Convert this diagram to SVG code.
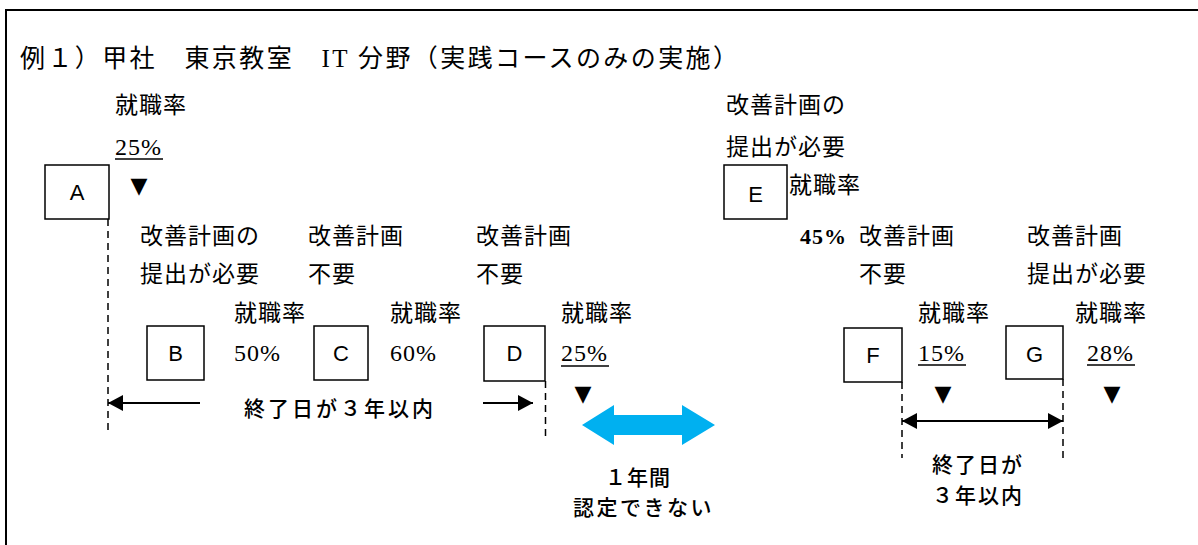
<svg xmlns="http://www.w3.org/2000/svg" width="1198" height="545" viewBox="0 0 1198 545">
<style>
.m{font-family:"Liberation Serif","Noto Sans CJK JP",serif;font-size:23px;letter-spacing:1px;fill:#000}
.n{font-family:"Liberation Serif","Noto Sans CJK JP",serif;font-size:24px;letter-spacing:1px;fill:#000}
.g{font-family:"Noto Sans CJK JP",sans-serif;font-size:21px;font-weight:500;fill:#000}
.lbl{font-family:"Liberation Sans",Arial,sans-serif;font-size:22px;fill:#000;text-anchor:middle}
.box{fill:#fff;stroke:#000;stroke-width:1.5}
.ul{stroke:#000;stroke-width:1.5}
.dash{stroke:#000;stroke-width:1.5;stroke-dasharray:7 5;fill:none}
.arr{stroke:#000;stroke-width:2;fill:none}
.tri{font-family:"DejaVu Sans",sans-serif;font-size:22px;text-anchor:middle;fill:#000}
</style>
<defs>
<marker id="ah" viewBox="0 0 15 16" refX="15" refY="8" markerWidth="15" markerHeight="16" markerUnits="userSpaceOnUse" orient="auto-start-reverse">
<path d="M0,0 L15,8 L0,16 z" fill="#000"/>
</marker>
</defs>
<rect width="1198" height="545" fill="#fff"/>
<path d="M6,546 V10 H1199" fill="none" stroke="#000" stroke-width="2"/>
<text x="20" y="67" class="m" style="font-size:25px;letter-spacing:0" textLength="718" lengthAdjust="spacing">例１）甲社　東京教室　IT 分野（実践コースのみの実施）</text>

<g id="nodeA">
<rect class="box" x="45" y="165" width="64" height="54"/>
<text class="lbl" x="77" y="200">A</text>
<text class="m" x="115" y="113">就職率</text>
<text class="n" x="115" y="155">25%</text>
<line class="ul" x1="115" y1="159" x2="163" y2="159"/>
<text class="tri" x="139" y="193">▼</text>
</g>

<g id="nodeB">
<rect class="box" x="147" y="326" width="57" height="54"/>
<text class="lbl" x="175.5" y="361">B</text>
<text class="m" x="140" y="244">改善計画の</text>
<text class="m" x="140" y="282">提出が必要</text>
<text class="m" x="234" y="321">就職率</text>
<text class="n" x="234" y="361">50%</text>
</g>

<g id="nodeC">
<rect class="box" x="314" y="326" width="54" height="54"/>
<text class="lbl" x="341" y="361">C</text>
<text class="m" x="308" y="244">改善計画</text>
<text class="m" x="308" y="282">不要</text>
<text class="m" x="390" y="321">就職率</text>
<text class="n" x="390" y="361">60%</text>
</g>

<g id="nodeD">
<rect class="box" x="484" y="326" width="61" height="55"/>
<text class="lbl" x="514.5" y="361">D</text>
<text class="m" x="476" y="244">改善計画</text>
<text class="m" x="476" y="282">不要</text>
<text class="m" x="561" y="321">就職率</text>
<text class="n" x="561" y="361">25%</text>
<line class="ul" x1="561" y1="366" x2="609" y2="366"/>
<text class="tri" x="583" y="401">▼</text>
</g>

<g id="nodeE">
<rect class="box" x="724" y="165" width="63" height="54"/>
<text class="lbl" x="755.5" y="202">E</text>
<text class="m" x="726" y="113">改善計画の</text>
<text class="m" x="726" y="155">提出が必要</text>
<text class="m" x="789" y="193">就職率</text>
<text class="n" x="800" y="244" style="font-weight:bold;font-size:22px">45%</text>
</g>

<g id="nodeF">
<rect class="box" x="844" y="328" width="58" height="54"/>
<text class="lbl" x="873" y="363">F</text>
<text class="m" x="859" y="244">改善計画</text>
<text class="m" x="859" y="282">不要</text>
<text class="m" x="918" y="321">就職率</text>
<text class="n" x="918" y="361">15%</text>
<line class="ul" x1="918" y1="365" x2="966" y2="365"/>
<text class="tri" x="943" y="401">▼</text>
</g>

<g id="nodeG">
<rect class="box" x="1006" y="326" width="57" height="53"/>
<text class="lbl" x="1034.5" y="362">G</text>
<text class="m" x="1027" y="244">改善計画</text>
<text class="m" x="1027" y="282">提出が必要</text>
<text class="m" x="1075" y="321">就職率</text>
<text class="n" x="1087" y="361">28%</text>
<line class="ul" x1="1087" y1="365" x2="1135" y2="365"/>
<text class="tri" x="1112" y="401">▼</text>
</g>

<g id="connectors">
<line class="dash" x1="108" y1="219" x2="108" y2="435"/>
<line class="dash" x1="545.5" y1="381" x2="545.5" y2="437"/>
<line class="dash" x1="902" y1="382" x2="902" y2="458"/>
<line class="dash" x1="1063" y1="379" x2="1063" y2="458"/>
<line class="arr" x1="200" y1="403" x2="108" y2="403" marker-end="url(#ah)"/>
<line class="arr" x1="483" y1="403" x2="533" y2="403" marker-end="url(#ah)"/>
<line class="arr" x1="902" y1="421" x2="1063" y2="421" marker-start="url(#ah)" marker-end="url(#ah)"/>
<polygon points="582,425 614,405 614,415 682,415 682,405 715,425 682,445 682,435 614,435 614,445" fill="#00B0F0"/>
</g>

<g id="labels">
<text class="g" x="244" y="416" style="letter-spacing:3px">終了日が３年以内</text>
<text class="g" x="605" y="485" style="letter-spacing:1px">１年間</text>
<text class="g" x="573" y="515" style="letter-spacing:2.5px">認定できない</text>
<text class="g" x="932" y="472" style="letter-spacing:2px">終了日が</text>
<text class="g" x="932" y="503" style="letter-spacing:2px">３年以内</text>
</g>
</svg>
